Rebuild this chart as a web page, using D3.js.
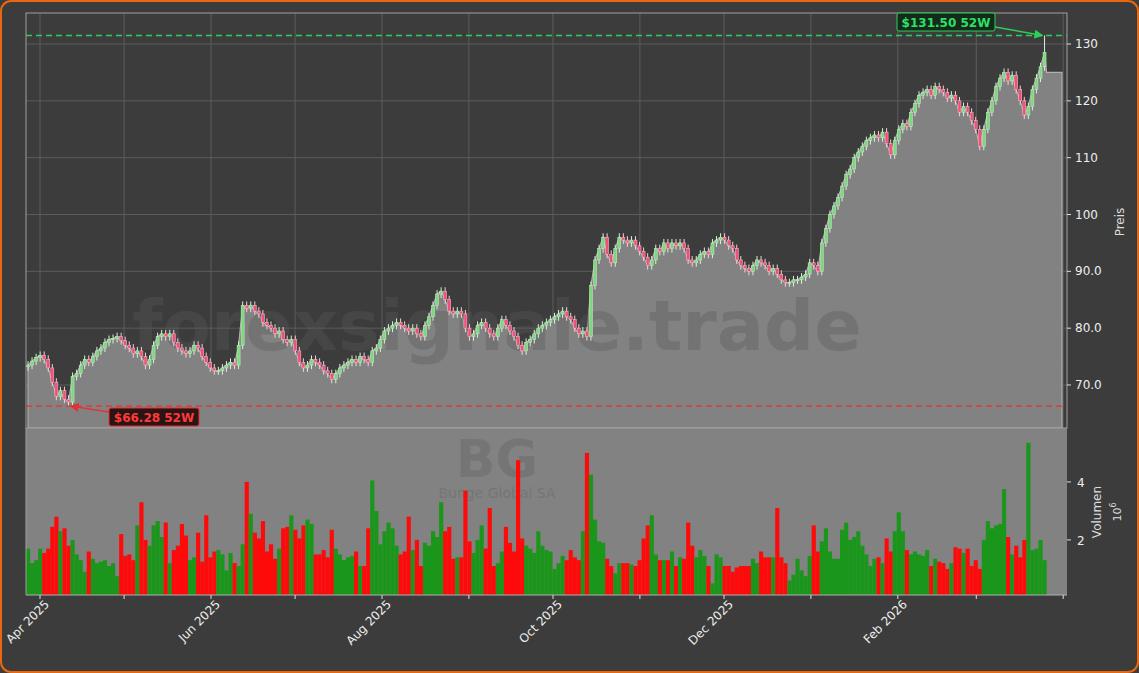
<!DOCTYPE html>
<html><head><meta charset="utf-8">
<script src="https://cdn.jsdelivr.net/npm/d3@7"></script>
<style>body{margin:0;background:#3c3c3c;}svg{display:block;font-family:"DejaVu Sans",sans-serif;}</style>
</head><body><svg id="c" width="1139" height="673"></svg>
<script>
const closes=[73.5,74.2,74.8,75.2,74.5,73,70.5,68,69,67.5,
67,71.5,72,73.5,74.5,74,75,76,76.5,77.5,
78,78.2,78.5,77.8,77,76.5,75.5,76,75,73.5,
74.5,77,78.5,79,78.5,79,77.5,76.5,76,75.5,
76,77,76.5,75,74,73,72.5,72.5,73,73.5,
74,73.5,77,84,83.5,84,83,82.5,81,80.5,
80,79,79.5,78,77.5,78,76,74,73,73.5,
74.5,74,73.5,72.5,72,71,72,73,73.5,74,
74.5,74,75,74.5,74,76,76.5,78,79.5,80,
80.5,81,80.5,80,79.5,80,79,78.5,80.5,82,
84,86,86.5,85,83,82.5,83,82.5,80,78.5,
79,80.5,81,80,79,78.5,80,81.5,80.5,79.5,
78.5,77,76,77.5,78,79,80,80.5,81,81.5,
82,82.5,83,82,81.5,80,79,79.5,78.5,87.5,
92,94,96,93,91.5,94,96,95.5,95,95.5,
94.5,93.5,92.5,91,92,94,93.5,95,94,95,
94.5,95,94,92,91.5,92,93,93.5,93,95,
95.5,96,95.5,94.5,94,92,91,90.5,90,91,
92,91.5,91,90,90.5,89.5,88.5,88,88,88.5,
88.5,89,89.5,91.5,91,90,95,97.5,100,101.5,
103,105,107,108,110,111,112,113,113.5,114,
113.5,114.5,112.5,110.5,113,115,116,115.5,118,119.5,
121,121.5,122,121,122.5,122,121.5,120.5,121,120,
118,119,118,116.5,115,112,115,118,120,122.5,
124,125,123.5,124.5,122,120,117.5,119,122,124,126,128.5];
const volumes=[1.7,1.2,1.3,1.7,1.55,1.7,2.45,2.8,2.3,2.4,1.8,2.0,1.5,1.3,0.9,1.6,1.35,1.2,1.25,1.3,
1.1,1.2,0.75,2.2,1.45,1.5,1.3,2.5,3.3,2.0,1.8,2.5,2.65,2.1,2.6,1.2,1.65,1.8,2.55,2.15,
1.3,1.4,2.25,1.25,2.85,1.4,1.6,1.65,1.5,0.95,1.55,1.2,1.1,1.85,4.0,2.9,2.25,2.05,2.65,1.6,
1.85,1.35,1.7,2.4,2.45,2.85,2.35,2.05,2.5,2.7,2.55,1.5,1.5,1.65,1.4,2.35,1.7,1.5,1.3,1.4,
1.45,1.6,1.1,1.1,2.4,4.05,3.0,1.85,2.3,2.6,2.4,1.8,1.5,1.6,2.8,1.65,2.0,1.1,1.9,1.8,
2.3,2.1,3.3,2.3,2.45,1.35,1.4,1.4,3.7,1.95,1.55,2.0,2.5,1.7,3.1,1.1,1.2,1.6,2.45,1.9,
1.6,4.75,2.05,1.8,1.7,1.55,2.3,1.8,1.65,
1.6,1.0,1.2,1.45,1.3,1.65,1.4,1.3,2.3,5.0,4.25,2.7,1.95,1.9,1.35,1.1,0.85,1.2,1.2,1.2,
1.15,1.1,1.3,2.05,2.5,2.85,1.5,1.3,1.3,1.3,1.6,1.1,1.4,1.35,2.6,1.8,1.4,1.65,1.45,1.1,
0.5,1.5,1.4,1.1,1.1,0.9,1.05,1.1,1.1,1.1,1.35,1.2,1.6,1.4,1.4,1.4,3.1,1.4,1.2,0.6,
0.8,1.35,0.95,0.75,1.45,2.5,1.6,1.95,2.4,1.6,1.35,1.35,2.35,2.6,2.0,2.1,2.3,1.8,1.5,1.1,
1.35,1.4,1.2,2.05,1.6,2.3,2.95,2.3,1.65,1.5,1.6,1.5,1.45,1.65,1.1,1.35,1.25,1.2,1.0,1.2,
1.75,1.7,1.55,1.7,1.1,1.3,1.0,2.0,2.65,2.4,2.5,2.55,3.75,2.1,1.5,1.8,1.4,2.0,5.35,1.65,
1.7,2.0,1.3,2.3];
const priceTicks=[70,80,90,100,110,120,130];
const volTicks=[2,4];
const monthLabels=["Apr 2025","Jun 2025","Aug 2025","Oct 2025","Dec 2025","Feb 2026"];
const yearHigh=131.5, yearLow=66.28, tailValue=125;

const opens=closes.map((c,i)=>i?closes[i-1]:c-0.3);
const highs=closes.map((c,i)=>Math.max(c,opens[i])+0.7);
const lows=closes.map((c,i)=>Math.min(c,opens[i])-0.7);
lows[10]=yearLow; highs[highs.length-1]=yearHigh;

const svg=d3.select("#c");
svg.append("rect").attr("x",1).attr("y",1).attr("width",1137).attr("height",671).attr("rx",10).attr("fill","#3c3c3c").attr("stroke","#e8670f").attr("stroke-width",2);
const L=26,R=1067,PT=13,PB=428,VB=595,W=4.05;
const x=d3.scaleLinear().domain([0,closes.length-1]).range([28,28+W*(closes.length-1)]);
const xt=d3.scaleTime().domain([new Date(2025,3,1),new Date(2025,5,1)]).range([40,211]);
const y=d3.scaleLinear().domain([62.43,135.46]).range([PB,PT]);
const yv=d3.scaleLinear().domain([0.1,5.86]).range([VB,PB]);
const grid="#5c5c5c";
const months=d3.timeMonth.range(new Date(2025,3,1),new Date(2026,3,2));
const g=svg.append("g");
months.forEach(m=>g.append("line").attr("x1",xt(m)).attr("x2",xt(m)).attr("y1",PT).attr("y2",PB).attr("stroke",grid));
priceTicks.forEach(t=>g.append("line").attr("x1",L).attr("x2",R).attr("y1",y(t)).attr("y2",y(t)).attr("stroke",grid));
const pts=closes.map((c,i)=>[x(i),c]);
pts.push([x(closes.length-1)+2,tailValue]);pts.push([R-5,tailValue]);
svg.append("path").attr("d",d3.area().x(p=>p[0]).y0(PB).y1(p=>y(p[1]))(pts)).attr("fill","#828282").attr("stroke","#b0b0b0").attr("stroke-width",1.2);
svg.append("rect").attr("x",L).attr("y",PB).attr("width",R-L).attr("height",VB-PB).attr("fill","#828282");
svg.append("text").attr("x",497).attr("y",350).attr("text-anchor","middle").attr("font-size",70).attr("font-weight","bold").attr("fill","#5a5a5a").attr("opacity",0.35).text("forexsignale.trade");
svg.append("text").attr("x",497).attr("y",477).attr("text-anchor","middle").attr("font-size",52).attr("font-weight","bold").attr("fill","#6a6a6a").attr("opacity",0.5).text("BG");
svg.append("text").attr("x",497).attr("y",498).attr("text-anchor","middle").attr("font-size",14).attr("fill","#6e6e6e").attr("opacity",0.6).text("Bunge Global SA");
const cg=svg.append("g");
closes.forEach((c,i)=>{const cx=x(i),up=c>=opens[i];
 cg.append("line").attr("x1",cx).attr("x2",cx).attr("y1",y(highs[i])).attr("y2",y(lows[i])).attr("stroke",up?"#d8f0d8":"#f0d0d8").attr("stroke-width",1);
 const t=y(Math.max(opens[i],c)),b=y(Math.min(opens[i],c));
 cg.append("rect").attr("x",cx-1.5).attr("y",t).attr("width",3).attr("height",Math.max(1,b-t)).attr("fill",up?"#7ed67e":"#f0507a").attr("stroke",up?"#c8f0c8":"#ffc0cc").attr("stroke-width",0.5);
});
closes.forEach((c,i)=>{if(volumes[i]==null)return;const up=c>=opens[i];
 svg.append("rect").attr("x",x(i)-W/2).attr("width",W+0.1).attr("y",yv(volumes[i])).attr("height",VB-yv(volumes[i])).attr("fill",up?"#1a961a":"#ff0a0a");});
svg.append("rect").attr("x",L).attr("y",PT).attr("width",R-L).attr("height",PB-PT).attr("fill","none").attr("stroke","#a0a0a0");
svg.append("line").attr("x1",L).attr("x2",R).attr("y1",VB).attr("y2",VB).attr("stroke","#b0b0b0");
svg.append("line").attr("x1",L).attr("x2",L).attr("y1",PB).attr("y2",VB).attr("stroke","#a0a0a0");
priceTicks.forEach(t=>{svg.append("line").attr("x1",R).attr("x2",R+4).attr("y1",y(t)).attr("y2",y(t)).attr("stroke","#ddd");
 svg.append("text").attr("x",R+8).attr("y",y(t)+4).attr("font-size",12).attr("fill","#eee").text(t>=100?t:t.toFixed(1));});
svg.append("text").attr("transform","translate(1124,222) rotate(-90)").attr("text-anchor","middle").attr("font-size",12).attr("fill","#ddd").text("Preis");
volTicks.forEach(t=>{svg.append("line").attr("x1",R).attr("x2",R+4).attr("y1",yv(t)).attr("y2",yv(t)).attr("stroke","#ddd");
 svg.append("text").attr("x",R+10).attr("y",yv(t)+5).attr("font-size",12).attr("fill","#eee").text(t);});
svg.append("text").attr("transform","translate(1101,512) rotate(-90)").attr("text-anchor","middle").attr("font-size",12).attr("fill","#ddd").text("Volumen");
svg.append("text").attr("transform","translate(1121,512) rotate(-90)").attr("text-anchor","middle").attr("font-size",11).attr("fill","#ddd").html("10<tspan dy='-5' font-size='8'>6</tspan>");
months.forEach((m,k)=>{svg.append("line").attr("x1",xt(m)).attr("x2",xt(m)).attr("y1",VB).attr("y2",VB+4).attr("stroke","#ddd");
 if(k%2===0){svg.append("text").attr("transform",`translate(${xt(m)+10},${VB+10}) rotate(-45)`).attr("text-anchor","end").attr("font-size",12).attr("fill","#eee").text(monthLabels[k/2]);}});
const defs=svg.append("defs");
[["ag","#2ecc5a"],["ar","#e83030"]].forEach(([id,c])=>defs.append("marker").attr("id",id).attr("viewBox","0 0 10 10").attr("refX",9).attr("refY",5).attr("markerWidth",6).attr("markerHeight",6).attr("orient","auto").append("path").attr("d","M0,0L10,5L0,10z").attr("fill",c));
svg.append("line").attr("x1",L).attr("x2",R).attr("y1",y(yearHigh)).attr("y2",y(yearHigh)).attr("stroke","#2ecc5a").attr("stroke-width",1.3).attr("stroke-dasharray","6,4");
svg.append("line").attr("x1",L).attr("x2",R).attr("y1",y(yearLow)).attr("y2",y(yearLow)).attr("stroke","#e83030").attr("stroke-width",1.3).attr("stroke-dasharray","6,4");
const hiX=x(closes.length-1),loX=x(10);
svg.append("line").attr("x1",995).attr("y1",27).attr("x2",hiX-2).attr("y2",y(yearHigh)).attr("stroke","#2ecc5a").attr("stroke-width",1.5).attr("marker-end","url(#ag)");
svg.append("rect").attr("x",897).attr("y",13).attr("width",98).attr("height",18).attr("rx",2).attr("fill","#142a1a").attr("stroke","#2ecc5a");
svg.append("text").attr("x",946).attr("y",26.5).attr("text-anchor","middle").attr("font-size",12).attr("font-weight","bold").attr("fill","#2ee066").text("$"+yearHigh.toFixed(2)+" 52W");
svg.append("line").attr("x1",109).attr("y1",412).attr("x2",loX+2).attr("y2",y(yearLow)).attr("stroke","#e83030").attr("stroke-width",1.5).attr("marker-end","url(#ar)");
svg.append("rect").attr("x",109).attr("y",408).attr("width",90).attr("height",18).attr("rx",2).attr("fill","#2a1414").attr("stroke","#e83030");
svg.append("text").attr("x",154).attr("y",421.5).attr("text-anchor","middle").attr("font-size",12).attr("font-weight","bold").attr("fill","#ff3a3a").text("$"+yearLow.toFixed(2)+" 52W");
</script></body></html>
